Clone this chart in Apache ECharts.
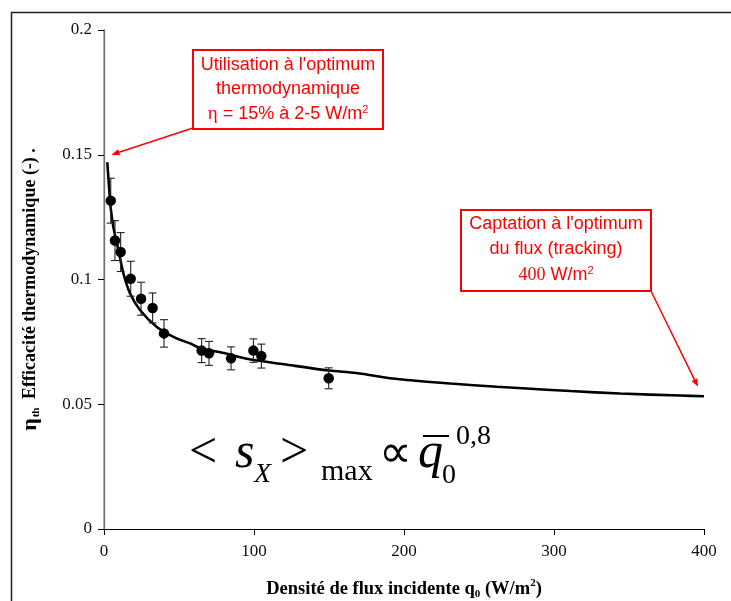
<!DOCTYPE html>
<html lang="fr">
<head>
<meta charset="UTF-8">
<title>Efficacité thermodynamique</title>
<style>
  html, body { margin: 0; padding: 0; background: #fff; }
  #chart { width: 731px; height: 601px; }
</style>
</head>
<body>
<div id="chart"></div>
<script src="https://cdn.jsdelivr.net/npm/echarts@6/dist/echarts.min.js"></script>
<script>
// mesures (flux incident W/m2, efficacité, incertitude)
var fluxObs = [4.5, 7.3, 11.1, 17.8, 24.7, 32.4, 40, 65.1, 70, 84.7, 99.6, 104.9, 149.8];
var etaObs  = [0.1316, 0.1156, 0.111, 0.1003, 0.0923, 0.0886, 0.0784, 0.0715, 0.0704, 0.0684, 0.0715, 0.0693, 0.0604];
var etaErr  = [0.009, 0.008, 0.0078, 0.007, 0.0066, 0.006, 0.0055, 0.0048, 0.0048, 0.0046, 0.0047, 0.0048, 0.0042];

// courbe tracée
var fitFlux = [2.2, 3.5, 4.4, 6.2, 8, 9.6, 12.9, 17.3, 24, 35, 48, 57, 64, 80, 97, 120, 150, 168, 197, 231, 262, 279, 311, 344, 384, 400];
var fitEta  = [0.147, 0.136, 0.129, 0.1212, 0.116, 0.1118, 0.1025, 0.0945, 0.0878, 0.0811, 0.0765, 0.0745, 0.0725, 0.0705, 0.068, 0.066, 0.0635, 0.0625, 0.06, 0.0583, 0.057, 0.0564, 0.0553, 0.0543, 0.0535, 0.0532];

var xTicks = [0, 100, 200, 300, 400];
var yTicks = [0, 0.05, 0.1, 0.15, 0.2];

// points visés par les flèches
var arrowTip1 = [5, 0.15];
var arrowTip2 = [396, 0.057];

var serif = "'Liberation Serif', 'Times New Roman', serif";
var sans = "'Liberation Sans', Arial, sans-serif";
var red = '#ff0000';

var chart = echarts.init(document.getElementById('chart'));

var errData = fluxObs.map(function (x, i) {
  return [x, etaObs[i] - etaErr[i], etaObs[i] + etaErr[i]];
});

function errorBars(params, api) {
  var x = api.value(0);
  var top = api.coord([x, api.value(2)]);
  var bot = api.coord([x, api.value(1)]);
  var w = 4;
  var st = { stroke: '#222', lineWidth: 1.1 };
  return {
    type: 'group',
    children: [
      { type: 'line', shape: { x1: top[0], y1: top[1], x2: bot[0], y2: bot[1] }, style: st },
      { type: 'line', shape: { x1: top[0] - w, y1: top[1], x2: top[0] + w, y2: top[1] }, style: st },
      { type: 'line', shape: { x1: bot[0] - w, y1: bot[1], x2: bot[0] + w, y2: bot[1] }, style: st }
    ]
  };
}

var option = {
  animation: false,
  grid: { left: 104, top: 30, right: 27, bottom: 72, containLabel: false, outerBoundsMode: 'none' },
  xAxis: [{
    type: 'value', min: xTicks[0], max: xTicks[xTicks.length - 1], interval: 100,
    axisLine: { lineStyle: { color: '#000', width: 1.2 } },
    axisTick: { length: 6, lineStyle: { color: '#000' } },
    splitLine: { show: false },
    axisLabel: { margin: 14, fontFamily: serif, fontSize: 17, color: '#111' },
    name: 'Densité de flux incidente q{sub|0} (W/m{sup|2})',
    nameLocation: 'middle', nameGap: 49,
    nameTextStyle: {
      fontFamily: serif, fontWeight: 'bold', fontSize: 18.5, color: '#000',
      rich: {
        sub: { fontFamily: serif, fontWeight: 'bold', fontSize: 11, color: '#000', verticalAlign: 'bottom', lineHeight: 22 },
        sup: { fontFamily: serif, fontWeight: 'bold', fontSize: 11, color: '#000', verticalAlign: 'top', lineHeight: 22 }
      }
    }
  }, {
    type: 'value', position: 'top', min: xTicks[0], max: xTicks[xTicks.length - 1],
    axisLine: { lineStyle: { color: '#000', width: 1 } },
    axisTick: { show: false }, axisLabel: { show: false }, splitLine: { show: false }
  }],
  yAxis: [{
    type: 'value', min: yTicks[0], max: yTicks[yTicks.length - 1], interval: 0.05,
    axisLine: { lineStyle: { color: '#000', width: 1.2 } },
    axisTick: { length: 6, lineStyle: { color: '#000' } },
    splitLine: { show: false },
    axisLabel: {
      margin: 12, fontFamily: serif, fontSize: 17, color: '#111',
      formatter: function (v) { return String(+v.toFixed(2)); }
    },
    name: '{eta|η}{th|th} Efficacité thermodynamique (-) .',
    nameLocation: 'middle', nameGap: 62,
    nameTextStyle: {
      fontFamily: serif, fontWeight: 'bold', fontSize: 18, color: '#000',
      padding: [0, 20, 0, 0],
      rich: {
        eta: { fontFamily: serif, fontWeight: 'bold', fontSize: 22, color: '#000', lineHeight: 24 },
        th: { fontFamily: serif, fontSize: 11, color: '#000', padding: [0, 4, 0, 1], verticalAlign: 'bottom', lineHeight: 22 }
      }
    }
  }, {
    type: 'value', position: 'right', min: yTicks[0], max: yTicks[yTicks.length - 1],
    axisLine: { lineStyle: { color: '#999', width: 1.5 } },
    axisTick: { show: false }, axisLabel: { show: false }, splitLine: { show: false }
  }],
  series: [{
    type: 'line',
    data: fitFlux.map(function (x, i) { return [x, fitEta[i]]; }),
    smooth: 0.3, showSymbol: false,
    lineStyle: { color: '#000', width: 2.6 },
    z: 2
  }, {
    type: 'custom',
    renderItem: errorBars,
    encode: { x: 0, y: [1, 2] },
    data: errData,
    z: 3
  }, {
    type: 'scatter',
    data: fluxObs.map(function (x, i) { return [x, etaObs[i]]; }),
    symbol: 'circle', symbolSize: 10.5,
    itemStyle: { color: '#000', opacity: 1 },
    z: 4
  }]
};

chart.setOption(option);

// annotations
function arrow(from, to) {
  var dx = to[0] - from[0], dy = to[1] - from[1];
  var len = Math.sqrt(dx * dx + dy * dy);
  var ux = dx / len, uy = dy / len;
  var hl = 8, hw = 3.2;
  var bx = to[0] - ux * hl, by = to[1] - uy * hl;
  return [
    { type: 'line', shape: { x1: from[0], y1: from[1], x2: bx, y2: by }, style: { stroke: red, lineWidth: 1.5 } },
    { type: 'polygon', shape: { points: [to, [bx - uy * hw, by + ux * hw], [bx + uy * hw, by - ux * hw]] }, style: { fill: red } }
  ];
}

function annoText(cx, cy, text, rich) {
  return {
    type: 'text', x: cx, y: cy,
    style: {
      text: text, fill: red, font: '18px ' + sans,
      align: 'center', verticalAlign: 'middle', rich: rich || {}
    }
  };
}

function mathText(x, baseline, text, size, italic, align) {
  return {
    type: 'text', x: x, y: baseline - 0.34 * size,
    style: {
      text: text, fill: '#000',
      font: (italic ? 'italic ' : '') + size + 'px ' + serif,
      align: align || 'left', verticalAlign: 'middle'
    }
  };
}

var tip1 = chart.convertToPixel({ xAxisIndex: 0, yAxisIndex: 0 }, arrowTip1);
var tip2 = chart.convertToPixel({ xAxisIndex: 0, yAxisIndex: 0 }, arrowTip2);

var supRich = {
  sup: { fill: red, fontFamily: sans, fontSize: 11, verticalAlign: 'top', lineHeight: 20 },
  eta: { fill: red, fontFamily: serif, fontSize: 19 },
  tnr: { fill: red, fontFamily: serif, fontSize: 18 }
};

var graphics = [
  { type: 'rect', shape: { x: 11.5, y: 12.5, width: 760, height: 620 }, style: { fill: null, stroke: '#222', lineWidth: 1.5 }, silent: true },
  { type: 'rect', shape: { x: 193, y: 50, width: 190, height: 79 }, style: { fill: '#fff', stroke: red, lineWidth: 2 } },
  annoText(288, 65, "Utilisation à l'optimum"),
  annoText(288, 89, 'thermodynamique'),
  annoText(288, 114, '{eta|η} = 15% à 2-5 W/m{sup|2}', supRich),
  { type: 'rect', shape: { x: 461, y: 210, width: 190, height: 81 }, style: { fill: '#fff', stroke: red, lineWidth: 2 } },
  annoText(556, 224, "Captation à l'optimum"),
  annoText(556, 249, 'du flux (tracking)'),
  annoText(556, 275, '{tnr|400} W/m{sup|2}', supRich)
];
graphics = graphics.concat(arrow([193, 128], tip1));
graphics = graphics.concat(arrow([651, 291], tip2));

// formule  < s_X >max ∝ q0^0,8
graphics.push(
  mathText(189, 471, '<', 50),
  mathText(235, 471, 's', 50, true),
  mathText(254, 484, 'X', 28, true),
  mathText(280, 471, '>', 50),
  mathText(321, 482, 'max', 30),
  mathText(379, 471, '∝', 46),
  mathText(418, 471, 'q', 50, true),
  { type: 'line', shape: { x1: 423, y1: 436, x2: 449, y2: 436 }, style: { stroke: '#000', lineWidth: 2 } },
  mathText(442, 485, '0', 28),
  mathText(456, 446, '0,8', 28)
);

chart.setOption({ graphic: graphics });
</script>
</body>
</html>
